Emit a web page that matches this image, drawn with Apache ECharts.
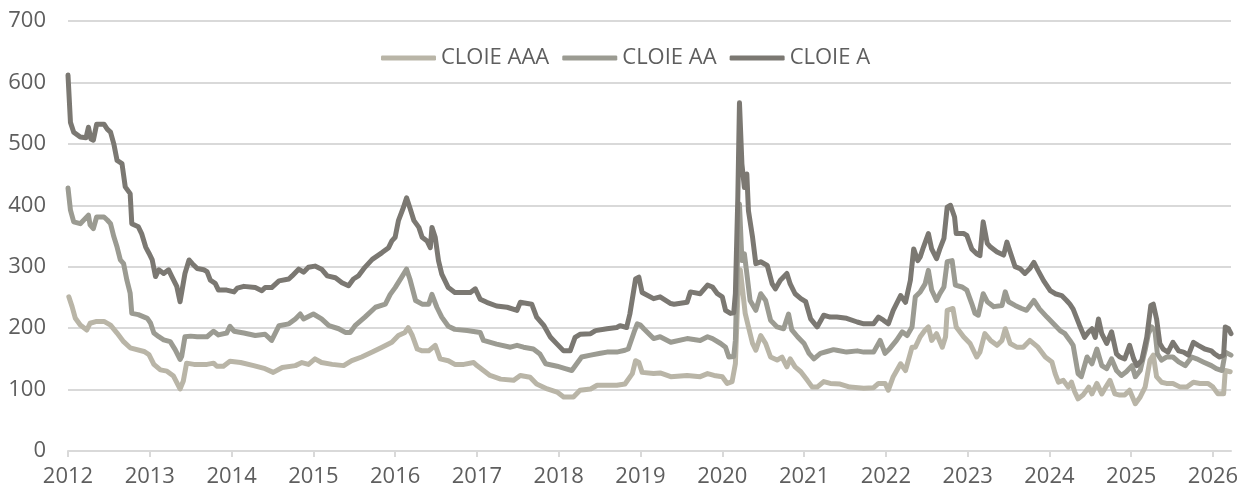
<!DOCTYPE html>
<html>
<head>
<meta charset="utf-8">
<script src="https://cdn.jsdelivr.net/npm/echarts@6/dist/echarts.min.js"></script>
<style>
html,body{margin:0;padding:0;background:#fff;}
#chart{width:1247px;height:490px;}
</style>
</head>
<body>
<div id="chart"></div>
<script>
// Series names
const seriesNames = ['CLOIE AAA', 'CLOIE AA', 'CLOIE A'];
// Year tick labels
const yearTicks = [2012,2013,2014,2015,2016,2017,2018,2019,2020,2021,2022,2023,2024,2025,2026];

// [decimal year, spread]
const cloieAAA = [
[2012.01,251],[2012.05,235],[2012.09,216],[2012.15,205],[2012.23,197],[2012.27,208],[2012.35,211],[2012.44,211],[2012.52,205],[2012.60,192],[2012.68,178],[2012.76,168],[2012.93,162],[2012.99,157],[2013.05,141],[2013.13,132],[2013.21,130],[2013.29,122],[2013.37,101],[2013.41,114],[2013.45,143],[2013.54,141],[2013.70,141],[2013.78,143],[2013.82,138],[2013.90,138],[2013.98,146],[2014.11,144],[2014.27,139],
[2014.41,134],[2014.51,128],[2014.62,136],[2014.78,139],[2014.86,144],[2014.94,141],[2015.02,150],[2015.10,144],[2015.23,141],[2015.37,139],[2015.47,147],[2015.59,153],[2015.72,161],[2015.84,169],[2015.96,177],[2016.04,188],[2016.12,193],[2016.16,201],[2016.21,188],[2016.27,166],[2016.33,163],[2016.41,163],[2016.49,172],[2016.55,150],[2016.65,147],[2016.73,141],
[2016.84,141],[2016.96,144],[2017.00,139],[2017.08,131],[2017.16,123],[2017.29,117],[2017.45,115],[2017.53,123],[2017.65,120],[2017.73,109],[2017.86,101],[2017.98,96],[2018.06,88],[2018.18,88],[2018.26,99],[2018.39,101],[2018.47,107],[2018.59,107],[2018.71,107],[2018.81,109],[2018.90,126],[2018.94,147],[2018.98,144],[2019.02,128],
[2019.16,126],[2019.24,127],[2019.37,121],[2019.57,123],[2019.73,121],[2019.82,126],[2019.90,123],[2020.00,121],[2020.06,110],[2020.12,113],[2020.16,142],[2020.19,251],[2020.22,295],[2020.24,272],[2020.28,224],[2020.32,202],[2020.37,175],[2020.41,164],[2020.47,188],[2020.53,175],[2020.59,153],[2020.67,148],[2020.73,153],[2020.79,137],[2020.83,150],[2020.89,137],[2020.96,129],[2021.04,115],[2021.10,104],[2021.16,104],[2021.24,113],[2021.32,110],
[2021.44,109],[2021.56,104],[2021.73,102],[2021.85,103],[2021.91,110],[2021.99,110],[2022.03,99],[2022.09,121],[2022.18,142],[2022.24,131],[2022.32,169],[2022.36,169],[2022.42,186],[2022.48,197],[2022.52,202],[2022.56,180],[2022.62,191],[2022.69,169],[2022.73,186],[2022.75,229],[2022.82,232],[2022.86,202],[2022.95,186],[2023.03,175],[2023.11,153],[2023.15,161],[2023.21,191],[2023.28,180],[2023.36,172],[2023.42,180],[2023.46,199],[2023.52,175],[2023.60,169],[2023.68,169],[2023.76,180],
[2023.86,169],[2023.95,153],[2024.03,145],[2024.07,126],[2024.11,112],[2024.17,115],[2024.23,104],[2024.27,112],[2024.31,96],[2024.35,85],[2024.41,91],[2024.48,104],[2024.52,93],[2024.58,110],[2024.64,93],[2024.68,102],[2024.74,115],[2024.80,93],[2024.86,91],[2024.92,91],[2024.98,99],[2025.05,77],[2025.11,88],[2025.17,104],[2025.23,148],[2025.27,156],[2025.31,121],[2025.37,112],[2025.43,110],[2025.51,110],[2025.60,104],[2025.68,104],[2025.76,112],[2025.84,110],[2025.94,110],[2026.00,104],[2026.06,93],[2026.13,93],[2026.15,131],[2026.21,129]
];

const cloieAA = [
[2012.00,428],[2012.03,392],[2012.07,373],[2012.15,370],[2012.25,384],[2012.27,368],[2012.31,362],[2012.35,381],[2012.44,381],[2012.48,376],[2012.52,370],[2012.56,349],[2012.60,332],[2012.64,311],[2012.68,305],[2012.72,278],[2012.76,257],[2012.78,224],[2012.86,222],[2012.97,216],[2013.01,208],[2013.05,192],[2013.11,186],[2013.17,181],[2013.25,178],[2013.31,165],[2013.37,149],[2013.39,154],[2013.43,186],[2013.50,187],[2013.58,186],[2013.70,186],[2013.78,195],[2013.84,189],[2013.94,192],[2013.98,203],[2014.03,195],[2014.15,192],
[2014.29,188],[2014.41,190],[2014.49,180],[2014.58,204],[2014.70,207],[2014.78,215],[2014.84,223],[2014.88,215],[2015.00,223],[2015.10,215],[2015.19,204],[2015.31,199],[2015.39,193],[2015.45,193],[2015.51,204],[2015.63,218],[2015.76,234],[2015.88,239],[2015.94,255],[2016.00,266],[2016.08,283],[2016.14,296],[2016.18,280],[2016.25,245],[2016.33,239],[2016.41,239],[2016.45,255],[2016.51,234],[2016.57,218],[2016.65,203],[2016.73,198],
[2016.88,196],[2017.04,193],[2017.08,180],[2017.24,174],[2017.41,169],[2017.49,172],[2017.57,169],[2017.69,166],[2017.77,158],[2017.84,142],[2017.98,138],[2018.08,134],[2018.16,131],[2018.22,142],[2018.28,153],[2018.39,156],[2018.51,159],[2018.59,161],[2018.71,161],[2018.81,164],[2018.85,166],[2018.92,193],[2018.96,207],[2019.00,205],[2019.04,199],
[2019.16,183],[2019.24,186],[2019.37,177],[2019.57,183],[2019.73,180],[2019.82,186],[2019.88,183],[2019.98,175],[2020.04,169],[2020.08,153],[2020.14,154],[2020.16,180],[2020.19,332],[2020.21,402],[2020.24,310],[2020.27,321],[2020.30,289],[2020.34,245],[2020.41,229],[2020.47,256],[2020.53,245],[2020.59,213],[2020.67,202],[2020.75,199],[2020.81,223],[2020.85,197],[2020.92,186],[2021.00,175],[2021.06,159],[2021.12,150],[2021.20,159],[2021.28,162],[2021.36,165],
[2021.40,164],[2021.52,161],[2021.65,163],[2021.73,161],[2021.85,161],[2021.93,180],[2021.99,159],[2022.05,167],[2022.13,180],[2022.20,194],[2022.26,188],[2022.32,202],[2022.36,251],[2022.42,259],[2022.48,272],[2022.52,294],[2022.56,262],[2022.62,245],[2022.66,256],[2022.71,267],[2022.75,308],[2022.81,310],[2022.85,270],[2022.93,267],[2022.99,262],[2023.05,240],[2023.09,224],[2023.13,221],[2023.19,256],[2023.24,243],[2023.32,235],[2023.42,237],[2023.46,259],[2023.50,243],[2023.58,237],[2023.66,232],[2023.72,229],
[2023.81,245],[2023.88,231],[2023.97,218],[2024.05,207],[2024.13,196],[2024.19,191],[2024.25,180],[2024.29,172],[2024.35,126],[2024.39,121],[2024.46,153],[2024.52,142],[2024.58,166],[2024.64,139],[2024.70,134],[2024.76,150],[2024.82,131],[2024.88,123],[2024.94,129],[2025.01,139],[2025.05,121],[2025.11,131],[2025.17,164],[2025.21,191],[2025.25,202],[2025.29,196],[2025.32,158],[2025.37,148],[2025.43,153],[2025.51,153],[2025.58,145],[2025.66,139],[2025.74,153],[2025.80,150],[2025.88,145],[2025.98,139],[2026.04,134],[2026.11,131],[2026.15,161],[2026.22,156]
];

const cloieA = [
[2012.00,612],[2012.03,535],[2012.07,519],[2012.15,511],[2012.22,510],[2012.25,527],[2012.28,508],[2012.31,506],[2012.35,532],[2012.44,532],[2012.48,524],[2012.52,519],[2012.56,500],[2012.60,473],[2012.66,468],[2012.70,430],[2012.76,419],[2012.78,370],[2012.86,365],[2012.90,354],[2012.95,332],[2012.99,322],[2013.03,311],[2013.07,284],[2013.11,295],[2013.17,289],[2013.23,295],[2013.27,284],[2013.33,268],[2013.37,243],[2013.39,246],[2013.43,289],[2013.48,311],[2013.52,305],[2013.58,297],[2013.66,295],[2013.70,292],[2013.74,278],[2013.80,273],[2013.84,262],[2013.94,262],[2014.03,259],[2014.07,265],[2014.15,268],
[2014.29,266],[2014.37,261],[2014.41,266],[2014.49,266],[2014.58,277],[2014.70,280],[2014.74,285],[2014.82,296],[2014.88,291],[2014.94,299],[2015.02,301],[2015.10,296],[2015.17,285],[2015.27,282],[2015.35,274],[2015.43,269],[2015.49,280],[2015.55,285],[2015.63,299],[2015.72,312],[2015.84,323],[2015.92,331],[2015.96,342],[2016.00,348],[2016.04,375],[2016.10,396],[2016.14,412],[2016.18,396],[2016.23,375],[2016.29,364],[2016.33,348],[2016.39,342],[2016.43,331],[2016.45,364],[2016.49,348],[2016.53,310],[2016.57,288],[2016.65,266],[2016.73,258],
[2016.92,258],[2016.98,264],[2017.04,247],[2017.12,242],[2017.24,236],[2017.37,234],[2017.49,229],[2017.53,242],[2017.67,239],[2017.73,218],[2017.82,204],[2017.90,185],[2017.98,174],[2018.06,163],[2018.14,163],[2018.20,185],[2018.26,190],[2018.39,191],[2018.45,196],[2018.59,199],[2018.71,201],[2018.75,204],[2018.83,201],[2018.87,223],[2018.94,280],[2018.98,283],[2019.02,258],
[2019.16,248],[2019.24,251],[2019.37,240],[2019.41,239],[2019.57,242],[2019.61,259],[2019.73,256],[2019.82,270],[2019.88,267],[2019.94,256],[2020.00,251],[2020.04,229],[2020.10,224],[2020.14,225],[2020.16,256],[2020.19,413],[2020.21,567],[2020.24,467],[2020.27,429],[2020.30,451],[2020.32,391],[2020.37,348],[2020.41,305],[2020.47,308],[2020.55,302],[2020.61,272],[2020.65,264],[2020.71,278],[2020.79,289],[2020.83,272],[2020.89,256],[2020.96,248],[2021.02,243],[2021.08,215],[2021.16,202],[2021.24,221],[2021.32,218],
[2021.40,218],[2021.52,216],[2021.65,210],[2021.73,207],[2021.85,207],[2021.91,218],[2021.97,213],[2022.03,207],[2022.09,229],[2022.18,253],[2022.24,242],[2022.30,278],[2022.34,329],[2022.39,310],[2022.42,316],[2022.46,332],[2022.52,354],[2022.56,329],[2022.62,313],[2022.66,329],[2022.71,346],[2022.75,397],[2022.79,400],[2022.84,381],[2022.86,354],[2022.95,354],[2022.99,351],[2023.05,329],[2023.11,321],[2023.15,318],[2023.19,373],[2023.24,338],[2023.28,332],[2023.36,324],[2023.44,319],[2023.48,340],[2023.52,324],[2023.58,300],[2023.64,297],[2023.70,289],[2023.76,297],
[2023.81,307],[2023.86,294],[2023.93,277],[2024.01,261],[2024.07,256],[2024.15,253],[2024.21,245],[2024.25,239],[2024.29,231],[2024.37,204],[2024.43,185],[2024.48,194],[2024.52,199],[2024.56,185],[2024.60,215],[2024.64,191],[2024.70,175],[2024.76,194],[2024.82,158],[2024.86,153],[2024.92,150],[2024.98,172],[2025.03,150],[2025.07,139],[2025.13,148],[2025.19,185],[2025.24,237],[2025.27,239],[2025.31,215],[2025.35,175],[2025.39,166],[2025.45,161],[2025.51,177],[2025.58,163],[2025.64,161],[2025.70,156],[2025.76,177],[2025.82,172],[2025.90,166],[2025.98,163],[2026.02,158],[2026.08,153],[2026.13,156],[2026.15,202],[2026.19,199],[2026.22,191]
];

const colors = ['#B9B5A7', '#9B9B92', '#7B7872'];
const textColor = '#5E5E5E';
const gridColor = '#D9D9D9';
const FONT = '"Open Sans", "Noto Sans", sans-serif';

const chart = echarts.init(document.getElementById('chart'), null, {renderer: 'canvas'});
const dataSets = [cloieAAA, cloieAA, cloieA];

chart.setOption({
  animation: false,
  backgroundColor: '#fff',
  color: colors,
  grid: {left: 68, right: 16, top: 21, bottom: 39, containLabel: false},
  legend: {
    top: 42,
    left: 376,
    itemGap: 13,
    itemWidth: 55,
    itemHeight: 5,
    icon: 'roundRect',
    textStyle: {color: textColor, fontSize: 22, fontFamily: FONT},
    data: seriesNames
  },
  xAxis: {
    type: 'value',
    min: 2012,
    max: 2026.22,
    interval: 1,
    axisLine: {show: true, lineStyle: {color: gridColor, width: 2}},
    axisTick: {show: true, length: 6, lineStyle: {color: gridColor, width: 2}, customValues: yearTicks},
    axisLabel: {color: textColor, fontSize: 22, fontFamily: FONT, margin: 15, customValues: yearTicks,
      formatter: v => String(Math.round(v))},
    splitLine: {show: false}
  },
  yAxis: {
    type: 'value',
    min: 0,
    max: 700,
    interval: 100,
    axisLine: {show: false},
    axisTick: {show: false},
    axisLabel: {color: textColor, fontSize: 22, fontFamily: FONT, margin: 22},
    splitLine: {show: true, lineStyle: {color: gridColor, width: 2}}
  },
  series: seriesNames.map((name, i) => ({
    name: name,
    type: 'line',
    data: dataSets[i],
    showSymbol: false,
    symbol: 'none',
    lineStyle: {width: 5, color: colors[i], join: 'round', cap: 'round'},
    itemStyle: {color: colors[i]},
    z: 2 + i
  }))
});
</script>
</body>
</html>
